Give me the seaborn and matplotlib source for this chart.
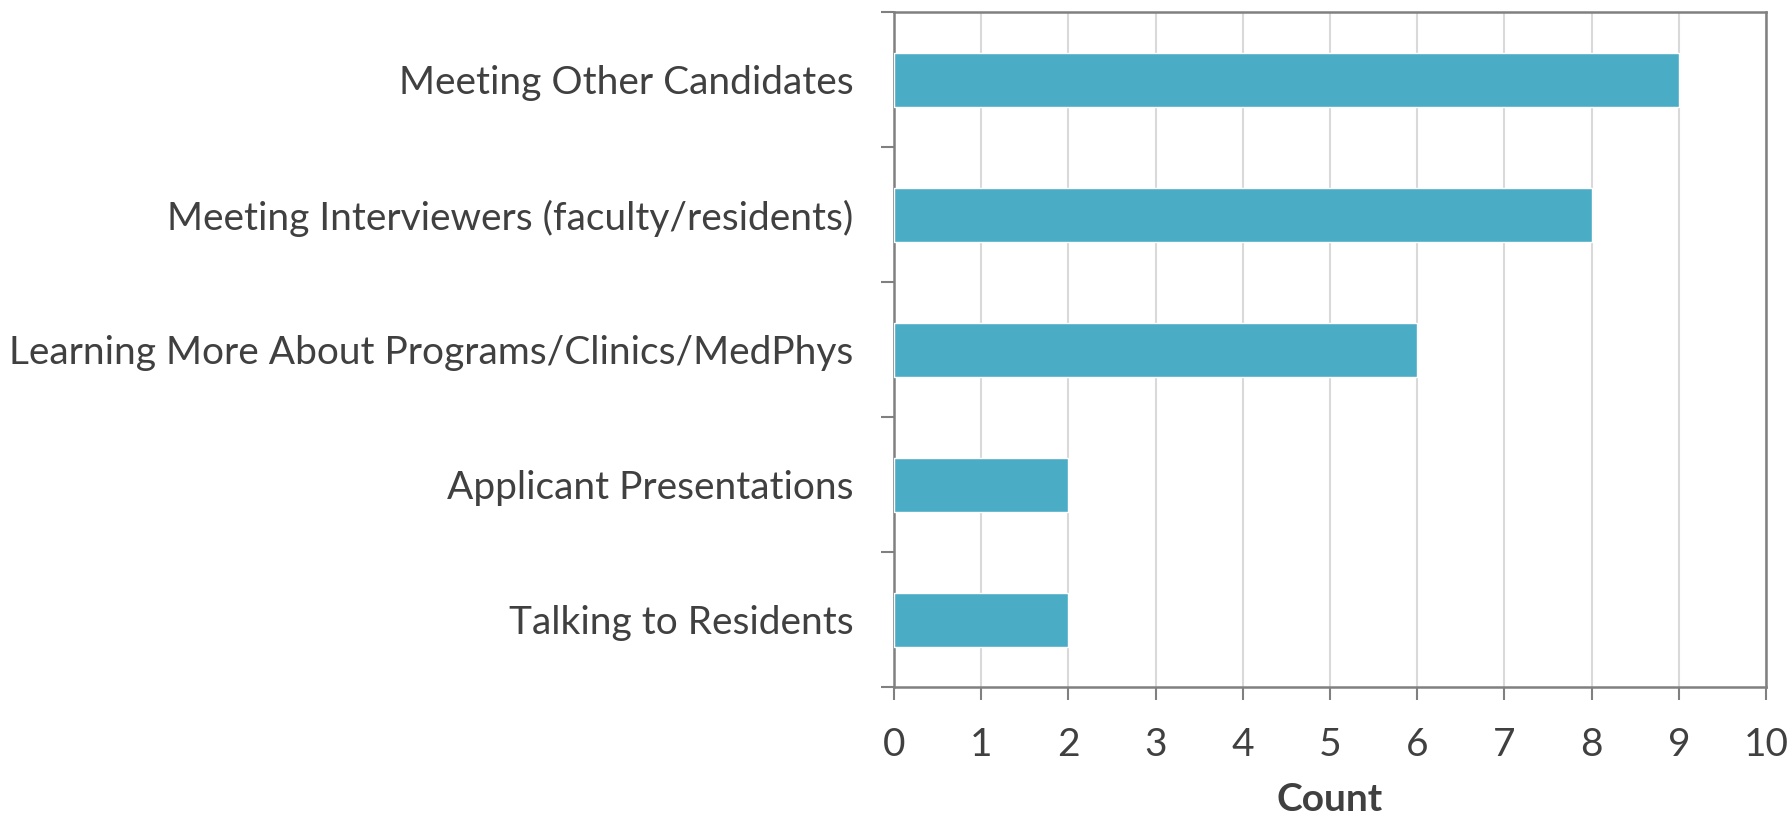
import matplotlib
matplotlib.use("Agg")
import matplotlib.pyplot as plt
import seaborn as sns
import pandas as pd
from matplotlib.ticker import FixedLocator

# Interview day highlights - horizontal bar chart
categories = [
    "Meeting Other Candidates",
    "Meeting Interviewers (faculty/residents)",
    "Learning More About Programs/Clinics/MedPhys",
    "Applicant Presentations",
    "Talking to Residents",
]
counts = [9, 8, 6, 2, 2]
x_ticks = list(range(0, 11))

df = pd.DataFrame({"Category": categories, "Count": counts})

sns.set_theme(style="white")
plt.rcParams["font.family"] = ["Lato", "DejaVu Sans"]

text_color = "#404040"
spine_color = "#808080"
bar_color = "#4BACC6"

fig = plt.figure(figsize=(17.92, 8.18), dpi=100)
ax = fig.add_axes([894 / 1792, 1 - 687 / 818, (1766 - 894) / 1792, (687 - 12) / 818])

sns.barplot(data=df, x="Count", y="Category", orient="h", color=bar_color,
            width=0.4, saturation=1, ax=ax, zorder=3)

ax.set_xlim(0, 10)
ax.set_ylim(len(categories) - 0.5, -0.5)
ax.set_xticks(x_ticks)
ax.xaxis.grid(True, color="#D9D9D9", linewidth=1.5, zorder=0)
ax.set_axisbelow(True)

for s in ax.spines.values():
    s.set_visible(True)
    s.set_color(spine_color)
    s.set_linewidth(1.8)

# category labels without ticks, boundary ticks as minor ticks
ax.tick_params(axis="y", which="major", length=0, pad=29, labelsize=28, labelcolor=text_color)
ax.yaxis.set_minor_locator(FixedLocator([i - 0.5 for i in range(len(categories) + 1)]))
ax.tick_params(axis="y", which="minor", length=9.5, width=1.5, color=spine_color, direction="out", left=True)
ax.tick_params(axis="x", which="major", length=9.5, width=1.5, color=spine_color, direction="out",
               bottom=True, pad=19, labelsize=28, labelcolor=text_color)

ax.set_ylabel("")
ax.set_xlabel("Count", fontsize=28, fontweight="bold", color=text_color, labelpad=14)

fig.savefig("out.png", dpi=100)
